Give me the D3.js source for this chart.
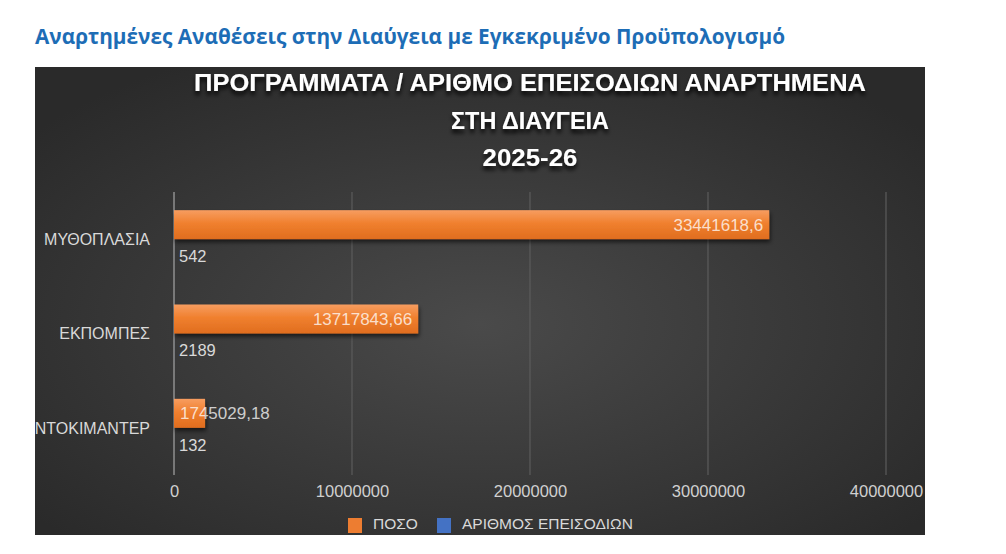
<!DOCTYPE html>
<html>
<head>
<meta charset="utf-8">
<script src="https://cdn.jsdelivr.net/npm/d3@7"></script>
<style>
  html, body { margin: 0; padding: 0; background: #ffffff; }
  svg { display: block; }
</style>
</head>
<body>
<svg id="chart" width="1006" height="554"></svg>
<script>
// ---- data ----
const pageHeading = "Αναρτημένες Αναθέσεις στην Διαύγεια με Εγκεκριμένο Προϋπολογισμό";
const titleLines = ["ΠΡΟΓΡΑΜΜΑΤΑ / ΑΡΙΘΜΟ ΕΠΕΙΣΟΔΙΩΝ ΑΝΑΡΤΗΜΕΝΑ", "ΣΤΗ ΔΙΑΥΓΕΙΑ", "2025-26"];
const categories = ["ΜΥΘΟΠΛΑΣΙΑ", "ΕΚΠΟΜΠΕΣ", "ΝΤΟΚΙΜΑΝΤΕΡ"];
const seriesNames = ["ΠΟΣΟ", "ΑΡΙΘΜΟΣ ΕΠΕΙΣΟΔΙΩΝ"];
const amountValues = [33441618.6, 13717843.66, 1745029.18];
const episodeValues = [542, 2189, 132];
const xTicks = [0, 10000000, 20000000, 30000000, 40000000];
const seriesColors = ["#ed7d31", "#4472c4"];

const fmtLabel = v => String(v).replace(".", ",");

const svg = d3.select("#chart");
const defs = svg.append("defs");

// background gradient
const bg = defs.append("radialGradient").attr("id", "bgGrad")
  .attr("cx", "50%").attr("cy", "55%").attr("r", "65%");
bg.append("stop").attr("offset", "0%").attr("stop-color", "#4a4a4a");
bg.append("stop").attr("offset", "100%").attr("stop-color", "#2a2a2a");

// bar gradient
const barGrad = defs.append("linearGradient").attr("id", "barGrad")
  .attr("x1", 0).attr("y1", 0).attr("x2", 0).attr("y2", 1);
barGrad.append("stop").attr("offset", "0%").attr("stop-color", "#f79d60");
barGrad.append("stop").attr("offset", "45%").attr("stop-color", "#f0802f");
barGrad.append("stop").attr("offset", "100%").attr("stop-color", "#e06d1e");

const shadow = defs.append("filter").attr("id", "barShadow")
  .attr("x", "-5%").attr("y", "-20%").attr("width", "115%").attr("height", "160%");
shadow.append("feDropShadow").attr("dx", 1).attr("dy", 3).attr("stdDeviation", 2)
  .attr("flood-color", "#000").attr("flood-opacity", 0.6);

const tshadow = defs.append("filter").attr("id", "textShadow")
  .attr("x", "-5%").attr("y", "-30%").attr("width", "110%").attr("height", "180%");
tshadow.append("feDropShadow").attr("dx", 0).attr("dy", 4).attr("stdDeviation", 2)
  .attr("flood-color", "#000").attr("flood-opacity", 0.85);

// page heading
svg.append("text")
  .attr("x", 35).attr("y", 44)
  .attr("font-family", "'Open Sans', 'Noto Sans', sans-serif")
  .attr("font-weight", 700).attr("font-size", 21)
  .attr("fill", "#1d6db6")
  .attr("textLength", 750).attr("lengthAdjust", "spacingAndGlyphs")
  .text(pageHeading);

// panel
const panel = { x: 35, y: 67, w: 890, h: 468 };
svg.append("rect")
  .attr("x", panel.x).attr("y", panel.y)
  .attr("width", panel.w).attr("height", panel.h)
  .attr("fill", "url(#bgGrad)");

const clip = defs.append("clipPath").attr("id", "panelClip");
clip.append("rect").attr("x", panel.x).attr("y", panel.y).attr("width", panel.w).attr("height", panel.h);
const g = svg.append("g").attr("clip-path", "url(#panelClip)");

// title
const titleWidths = [672, 158, 95];
const titleBaselines = [91, 129, 166];
g.selectAll("text.title").data(titleLines).join("text")
  .attr("class", "title")
  .attr("x", 530).attr("y", (d, i) => titleBaselines[i])
  .attr("text-anchor", "middle")
  .attr("font-family", "'Liberation Sans', Arial, sans-serif")
  .attr("font-weight", 700).attr("font-size", 23)
  .attr("fill", "#ffffff")
  .attr("filter", "url(#textShadow)")
  .attr("textLength", (d, i) => titleWidths[i]).attr("lengthAdjust", "spacingAndGlyphs")
  .text(d => d);

// scales
const plotTop = 192, plotBottom = 475;
const x = d3.scaleLinear().domain([0, 40000000]).range([174, 886]);
const y0 = d3.scaleBand().domain(categories).range([plotTop, plotBottom]).padding(0);
const barH = 29;
const inner = d3.scaleBand().domain(seriesNames)
  .range([(y0.bandwidth() - 2 * barH) / 2, (y0.bandwidth() + 2 * barH) / 2]).padding(0);

// gridlines
g.selectAll("line.grid").data(xTicks.slice(1)).join("line")
  .attr("class", "grid")
  .attr("x1", d => x(d)).attr("x2", d => x(d))
  .attr("y1", plotTop).attr("y2", plotBottom)
  .attr("stroke", "#5c5c5c").attr("stroke-width", 1.2);

// category axis line
g.append("line")
  .attr("x1", x(0)).attr("x2", x(0))
  .attr("y1", plotTop).attr("y2", plotBottom)
  .attr("stroke", "#a6a6a6").attr("stroke-width", 1.2);

// x axis tick labels
const xAxis = d3.axisBottom(x).tickValues(xTicks).tickSize(0).tickFormat(d3.format("d")).tickPadding(0);
const xa = g.append("g").attr("transform", `translate(0, 481)`).call(xAxis);
xa.select(".domain").remove();
xa.selectAll("text")
  .attr("dy", "0.95em")
  .attr("font-family", "'Liberation Sans', Arial, sans-serif")
  .attr("font-size", 16.5)
  .attr("fill", "#d0d0d0");

// category labels
const yAxis = d3.axisLeft(y0).tickSize(0).tickPadding(0);
const ya = g.append("g").attr("transform", `translate(150, 0)`).call(yAxis);
ya.select(".domain").remove();
ya.selectAll("text")
  .attr("dy", "0.36em")
  .attr("font-family", "'Liberation Sans', Arial, sans-serif")
  .attr("font-size", 16)
  .attr("fill", "#d9d9d9");

// bars
const rows = categories.map((c, i) => ({ cat: c, amount: amountValues[i], episodes: episodeValues[i] }));

const catG = g.selectAll("g.cat").data(rows).join("g")
  .attr("class", "cat")
  .attr("transform", d => `translate(0, ${y0(d.cat)})`);

catG.append("rect")
  .attr("x", x(0))
  .attr("y", inner(seriesNames[0]))
  .attr("width", d => x(d.amount) - x(0))
  .attr("height", inner.bandwidth())
  .attr("fill", "url(#barGrad)")
  .attr("filter", "url(#barShadow)");

catG.append("rect")
  .attr("x", x(0))
  .attr("y", inner(seriesNames[1]))
  .attr("width", d => Math.max(0, x(d.episodes) - x(0)))
  .attr("height", inner.bandwidth())
  .attr("fill", seriesColors[1]);

// amount labels (inside end, fall back to inside base when too wide)
catG.append("text")
  .attr("y", inner(seriesNames[0]) + inner.bandwidth() / 2)
  .attr("dy", "0.36em")
  .attr("font-family", "'Liberation Sans', Arial, sans-serif")
  .attr("font-size", 17)
  .attr("fill", "#ffffff").attr("fill-opacity", 0.76)
  .text(d => fmtLabel(d.amount))
  .each(function(d) {
    const w = this.getComputedTextLength();
    const barW = x(d.amount) - x(0);
    const t = d3.select(this);
    if (w + 12 > barW) {
      t.attr("x", x(0) + 6).attr("text-anchor", "start");
    } else {
      t.attr("x", x(d.amount) - 6).attr("text-anchor", "end");
    }
  });

// episode labels
catG.append("text")
  .attr("x", d => x(d.episodes) + 5)
  .attr("y", inner(seriesNames[1]) + inner.bandwidth() / 2)
  .attr("dy", "0.5em")
  .attr("font-family", "'Liberation Sans', Arial, sans-serif")
  .attr("font-size", 16.5)
  .attr("fill", "#d9d9d9")
  .text(d => d.episodes);

// legend
const legendX = [348, 437];
const leg = g.selectAll("g.leg").data(seriesNames).join("g")
  .attr("class", "leg")
  .attr("transform", (d, i) => `translate(${legendX[i]}, 518)`);
leg.append("rect").attr("width", 14).attr("height", 15)
  .attr("fill", (d, i) => seriesColors[i]);
leg.append("text")
  .attr("x", 25).attr("y", 11)
  .attr("font-family", "'Liberation Sans', Arial, sans-serif")
  .attr("font-size", 15.5)
  .attr("fill", "#d9d9d9")
  .text(d => d);
</script>
</body>
</html>
